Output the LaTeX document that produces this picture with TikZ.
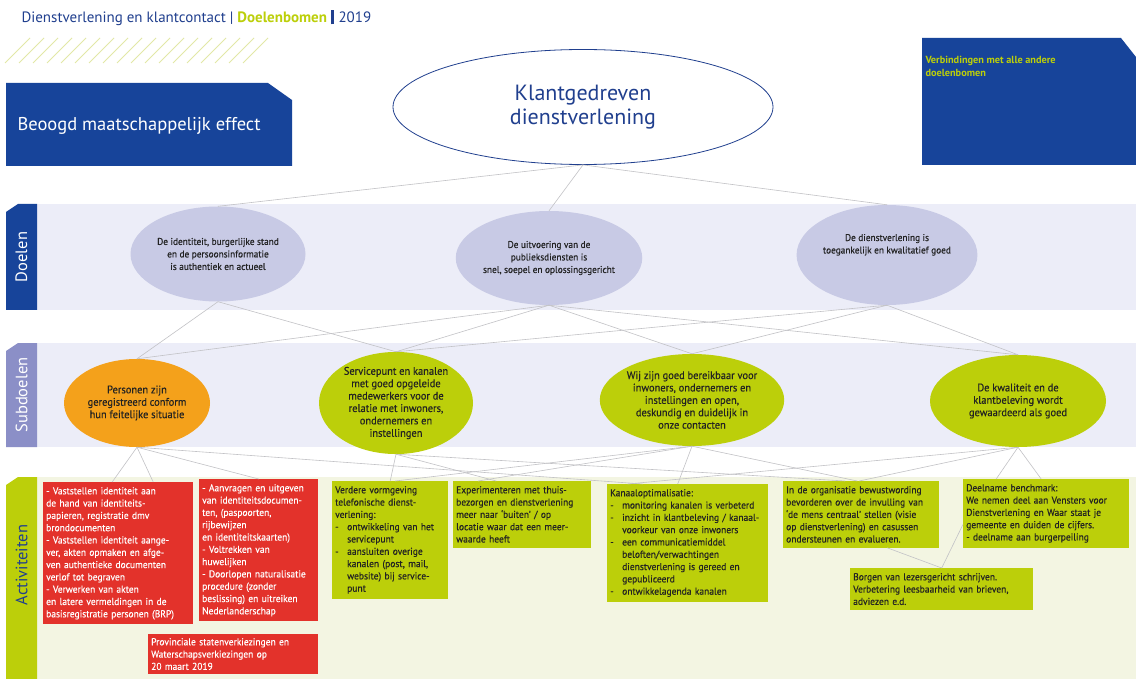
\documentclass[tikz,border=0pt]{standalone}
\usepackage{fontspec}
\setmainfont{PT Sans}
\newfontfamily\halfvet{PT Sans}[FakeBold=0.35,FakeStretch=0.95]
\usetikzlibrary{shapes.geometric}

\definecolor{rijkblauw}{HTML}{17449A}
\definecolor{donkerblauw}{HTML}{203F8E}
\definecolor{limoen}{HTML}{BCCF0A}
\definecolor{lichtlimoen}{HTML}{E2E8A6}
\definecolor{oranje}{HTML}{F4A11B}
\definecolor{rood}{HTML}{E3322B}
\definecolor{lila}{HTML}{C8CAE5}
\definecolor{lilaband}{HTML}{ECEDF8}
\definecolor{lilatab}{HTML}{8B8FC7}
\definecolor{creme}{HTML}{F3F5E2}
\definecolor{lijn}{HTML}{C2C2C6}
\definecolor{tekst}{HTML}{222222}

\newcommand{\streep}{\makebox[12pt][l]{-}}
\newcommand{\inspring}{\hspace*{12pt}}

\tikzset{
  doel/.style={ellipse,fill=lila,inner sep=0pt,align=center,text=tekst,font=\halfvet\fontsize{9.8}{12.5}\selectfont},
  subdoel/.style={ellipse,inner sep=0pt,align=center,text=tekst,font=\halfvet\fontsize{11}{12.4}\selectfont},
  activiteit/.style={anchor=north west,fill=limoen,text=tekst,align=left,inner xsep=3pt,inner ysep=5pt,text width=#1,font=\halfvet\fontsize{10}{12.3}\selectfont},
  rodeact/.style={activiteit=#1,fill=rood,text=white},
  verbinding/.style={draw=lijn,line width=0.6pt},
  tablabel/.style={rotate=90,font=\fontsize{16.5}{19}\selectfont}
}

\begin{document}
\begin{tikzpicture}[x=1pt,y=-1pt]
        \useasboundingbox[fill=white](0,0)rectangle(1136,679);

        % kop
        \node[anchor=west,font=\fontsize{15}{18}\selectfont] (kop) at (18,18) {\textcolor{donkerblauw}{Dienstverlening en klantcontact |} \textcolor{limoen}{\textbf{Doelenbomen}} \textcolor{donkerblauw}{\rule[-2pt]{3.5pt}{14pt} 2019}};
        \foreach \i in {0,...,17}
            \draw[lichtlimoen,line width=0.8pt](5+\i*14,63)--(30+\i*14,38);

        % effect
        \fill[rijkblauw](6,83)--(268,83)--(292,100)--(292,166)--(6,166)--cycle;
        \node[anchor=west,text=white,font=\fontsize{18.5}{22}\selectfont] (effect) at (14,126) {Beoogd maatschappelijk effect};
        \fill[rijkblauw](922,38)--(1121,38)--(1136,57)--(1136,165)--(922,165)--cycle;
        \node[anchor=north west,text=limoen,font=\fontsize{10.3}{12.5}\selectfont\bfseries,align=left] (verb) at (922,53) {Verbindingen met alle andere\\doelenbomen};
        \node[ellipse,draw=donkerblauw,line width=0.8pt,fill=white,minimum width=380pt,minimum height=115pt,inner sep=0pt,align=center,text=donkerblauw,font=\fontsize{22}{24}\selectfont] (top) at (583,107) {Klantgedreven\\dienstverlening};

        % Doelen
        \fill[lilaband](37,204)rectangle(1136,310);
        \fill[rijkblauw](6,212)--(18,204)--(37,204)--(37,310)--(6,310)--cycle;
        \node[tablabel,text=white] (tabdoel) at (21.5,257) {Doelen};
        \node[doel,minimum width=175pt,minimum height=95pt] (d1) at (218,254) {De identiteit, burgerlijke stand\\en de persoonsinformatie\\is authentiek en actueel};
        \node[doel,minimum width=174pt,minimum height=94pt] (d2) at (549,258) {De uitvoering van de\\publieksdiensten is\\snel, soepel en oplossingsgericht};
        \node[doel,minimum width=176pt,minimum height=100pt] (d3) at (887,255) {De dienstverlening is\\toegankelijk en kwalitatief goed\\[10pt]};

        % Subdoelen
        \fill[lilaband](37,343)rectangle(1136,447);
        \fill[lilatab](6,351)--(18,343)--(37,343)--(37,447)--(6,447)--cycle;
        \node[tablabel,text=white] (tabsub) at (21.5,395) {Subdoelen};
        \node[subdoel,fill=oranje,minimum width=146pt,minimum height=88pt] (s1) at (137,403) {Personen zijn\\geregistreerd conform\\hun feitelijke situatie};
        \node[subdoel,fill=limoen,minimum width=154pt,minimum height=92pt] (s2) at (396,403) {Servicepunt en kanalen\\met goed opgeleide\\medewerkers voor de\\relatie met inwoners,\\ondernemers en\\instellingen};
        \node[subdoel,fill=limoen,minimum width=162pt,minimum height=92pt] (s3) at (692,400) {Wij zijn goed bereikbaar voor\\inwoners, ondernemers en\\instellingen en open,\\deskundig en duidelijk in\\onze contacten};
        \node[subdoel,fill=limoen,minimum width=176pt,minimum height=92pt] (s4) at (1018,401) {De kwaliteit en de\\klantbeleving wordt\\gewaardeerd als goed};

        % Activiteiten
        \fill[creme](37,477)rectangle(1136,679);
        \fill[limoen](6,485)--(18,477)--(37,477)--(37,679)--(6,679)--cycle;
        \node[tablabel,text=donkerblauw] (tabact) at (21.5,565) {Activiteiten};
        \node[rodeact=144pt] (r1) at (43,482) {- Vaststellen identiteit aan\\de hand van identiteits-\\papieren, registratie dmv\\brondocumenten\\- Vaststellen identiteit aange-\\ver, akten opmaken en afge-\\ven authentieke documenten\\verlof tot begraven\\- Verwerken van akten\\en latere vermeldingen in de\\basisregistratie personen (BRP)};
        \node[rodeact=113pt] (r2) at (199,479) {- Aanvragen en uitgeven\\van identiteitsdocumen-\\ten, (paspoorten,\\rijbewijzen\\en identiteitskaarten)\\- Voltrekken van\\huwelijken\\- Doorlopen naturalisatie\\procedure (zonder\\beslissing) en uitreiken\\Nederlanderschap};
        \node[rodeact=164pt,inner ysep=4pt] (r3) at (148,634) {Provinciale statenverkiezingen en\\Waterschapsverkiezingen op\\20 maart 2019};
        \node[activiteit=110pt] (verdere) at (332,481) {Verdere vormgeving\\telefonische dienst-\\verlening:\\\streep ontwikkeling van het\\\inspring servicepunt\\\streep aansluiten overige\\\inspring kanalen (post, mail,\\\inspring website) bij service-\\\inspring punt};
        \node[activiteit=132pt] (exper) at (453,481) {Experimenteren met thuis-\\bezorgen en dienstverlening\\meer naar ‘buiten’ / op\\locatie waar dat een meer-\\waarde heeft};
        \node[activiteit=155pt] (kanaal) at (607,484) {Kanaaloptimalisatie:\\\streep monitoring kanalen is verbeterd\\\streep inzicht in klantbeleving / kanaal-\\\inspring voorkeur van onze inwoners\\\streep een communicatiemiddel\\\inspring beloften/verwachtingen\\\inspring dienstverlening is gereed en\\\inspring gepubliceerd\\\streep ontwikkelagenda kanalen};
        \node[activiteit=150pt] (org) at (783,481) {In de organisatie bewustwording\\bevorderen over de invulling van\\‘de mens centraal’ stellen (visie\\op dienstverlening) en casussen\\ondersteunen en evalueren.};
        \node[activiteit=177pt] (borgen) at (850,568) {Borgen van lezersgericht schrijven.\\Verbetering leesbaarheid van brieven,\\adviezen e.d.};
        \node[activiteit=160pt] (deel) at (963,479) {Deelname benchmark:\\We nemen deel aan Vensters voor\\Dienstverlening en Waar staat je\\gemeente en duiden de cijfers.\\- deelname aan burgerpeiling};

        % lijnen
        \foreach \d in {d1,d2,d3}
            \draw[verbinding](top.south)--(\d.north);
        \foreach \s in {s1,s2}
            \draw[verbinding](d1.south)--(\s.north);
        \foreach \s in {s1,s2,s3,s4}
            \draw[verbinding](d2.south)--(\s.north);
        \foreach \s in {s2,s3,s4}
            \draw[verbinding](d3.south)--(\s.north);

        \draw[verbinding](s1.south)--([xshift=-6pt]r1.north);
        \draw[verbinding](s1.south)--([xshift=35pt]r1.north);
        \draw[verbinding](s1.south)--(r2.north);
        \draw[verbinding](s1.south)--([xshift=-45pt]kanaal.north);
        \draw[verbinding](s2.south)--(verdere.north);
        \draw[verbinding](s2.south)--([xshift=-26pt]exper.north);
        \draw[verbinding](s2.south)--([xshift=-16pt]org.north);
        \draw[verbinding](s3.south)--([xshift=5pt]verdere.north);
        \draw[verbinding](s3.south)--([xshift=-44pt]exper.north);
        \draw[verbinding](s3.south)--([xshift=-10pt]kanaal.north);
        \draw[verbinding](s3.south)--([xshift=-4pt]org.north);
        \draw[verbinding](s4.south)--([xshift=-2pt]org.north);
        \draw[verbinding](s4.south)--([xshift=-50pt]deel.north);
        \draw[verbinding](s4.south)--([xshift=-5pt]deel.north);
        \draw[verbinding](s4.south)--([xshift=-60pt]kanaal.north);
        \draw[verbinding]([xshift=26pt]org.south)--(borgen.north);
        \draw[verbinding](borgen.north)--([yshift=-11pt]deel.west);
    \end{tikzpicture}
\end{document}
